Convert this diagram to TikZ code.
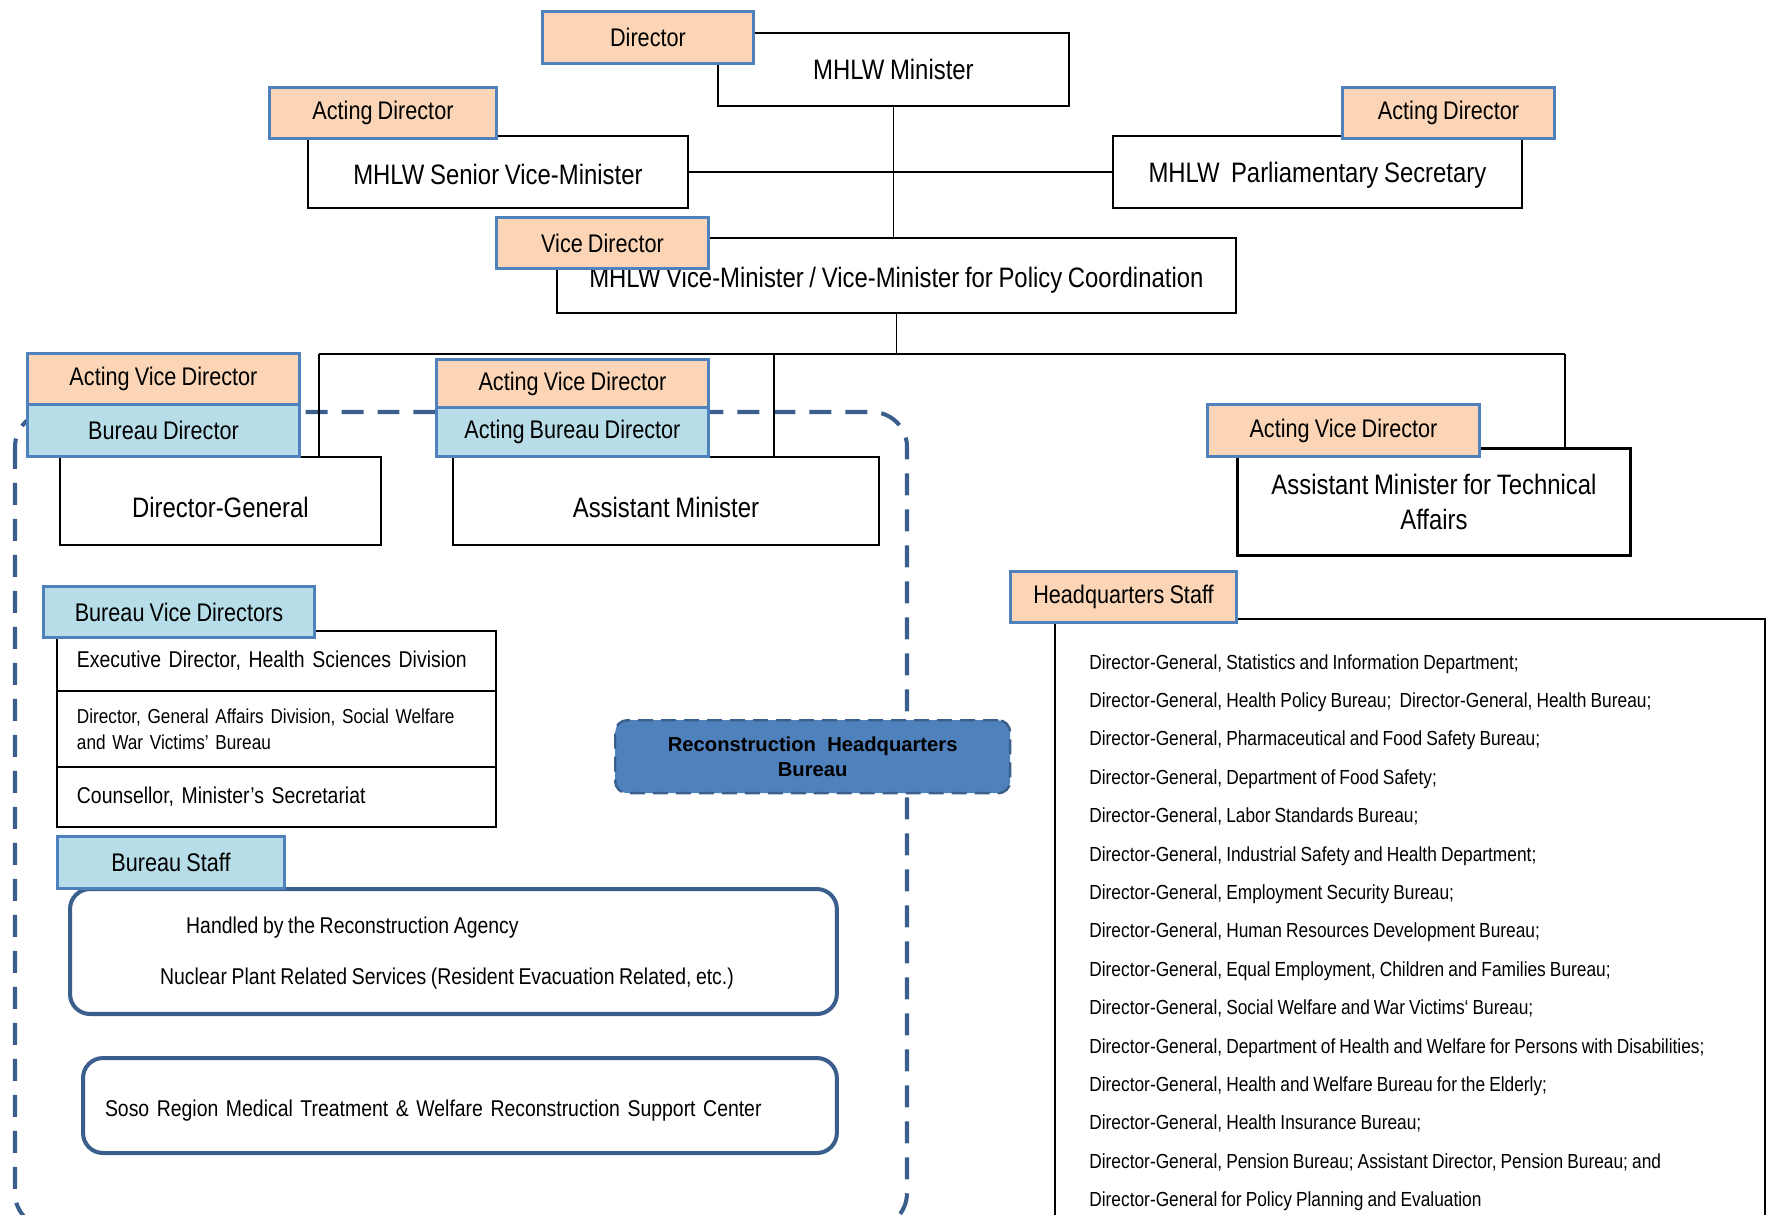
\documentclass[tikz,border=0pt]{standalone}
\usepackage{fontspec}
\setmainfont{Liberation Sans}[FakeStretch=0.85, WordSpace=0.85]
\newfontfamily\widefont{Liberation Sans}
\usetikzlibrary{positioning}
\newcommand{\sz}[2]{\fontsize{#1}{#2}\selectfont}
\definecolor{peach}{HTML}{FBD5B5}
\definecolor{sky}{HTML}{B7DEE8}
\definecolor{tagline}{HTML}{4F81BD}
\definecolor{navy}{HTML}{3B5F8D}
\definecolor{hqfill}{HTML}{4F81BD}
\tikzset{
    block/.style = {draw, rectangle, fill=white, line width=1.1pt,
        inner sep=0pt, anchor=north west, font=\sz{16}{20}, align=center},
    tag/.style = {draw=tagline, rectangle, fill=peach, line width=1.7pt,
        inner sep=0pt, anchor=north west, font=\sz{14.5}{17}},
    tagb/.style = {tag, fill=sky},
    row/.style = {block, font=\sz{13}{15}, text width=7.98cm,
        inner xsep=0.4cm, align=left},
    group/.style = {draw=navy, rectangle, rounded corners=0.4cm, fill=white,
        line width=2.3pt, inner sep=0pt, anchor=north west},
    region/.style = {draw=navy, line width=2.3pt, rounded corners=0.7cm,
        dash pattern=on 0.44cm off 0.28cm},
    hq/.style = {draw=navy, fill=hqfill, line width=1.4pt, rounded corners=0.24cm,
        dash pattern=on 0.3cm off 0.16cm, inner sep=0pt, anchor=north west,
        align=center, font=\widefont\bfseries\sz{11.5}{14}},
    line/.style = {draw, line width=0.85pt}
}

\begin{document}
\begin{tikzpicture}[x=0.02cm, y=-0.02cm]
    \useasboundingbox (0,0) rectangle (1767,1214);
    % bureau region
    \draw [region] (15,412) rectangle (907,1228);
    % bus lines
    \coordinate (tapdg) at (319,354);
    \coordinate (tapam) at (774,354);
    \coordinate (tapata) at (1565,354);
    \node [block, minimum width=7.02cm, minimum height=1.46cm] (minister) at (717,32) {MHLW Minister};
    \node [block, minimum width=7.6cm, minimum height=1.44cm, text height=0.5cm] (senior) at (307,135) {MHLW Senior Vice-Minister};
    \node [block, minimum width=8.18cm, minimum height=1.44cm, text height=0.55cm] (parl) at (1112,135) {MHLW\ \ Parliamentary Secretary};
    \node [block, minimum width=13.58cm, minimum height=1.5cm, text height=0.58cm] (vice) at (556,237) {MHLW Vice-Minister / Vice-Minister for Policy Coordination};
    \draw [line] (minister.south) -- (minister.south |- vice.north);
    \draw [line] (senior.east) -- (parl.west);
    \draw [line] (vice.south) -- (vice.south |- tapdg);
    \draw [line] (tapdg) -- (tapata);
    \node [block, minimum width=6.42cm, minimum height=1.76cm, text height=0.68cm, text depth=0pt] (dg) at (59,456) {Director-General};
    \node [block, minimum width=8.52cm, minimum height=1.76cm, text height=0.68cm, text depth=0pt] (am) at (452,456) {Assistant Minister};
    \node [block, line width=1.7pt, minimum width=7.86cm, minimum height=2.14cm] (ata) at (1236,447) {Assistant Minister for Technical\\Affairs};
    \draw [line] (tapdg) -- (tapdg |- dg.north);
    \draw [line] (tapam) -- (tapam |- am.north);
    \draw [line] (tapata) -- (tapata |- ata.north);
    % titles
    \node [tag, minimum width=4.22cm, minimum height=1.04cm] (lbdir) at (541,10) {Director};
    \node [tag, minimum width=4.54cm, minimum height=1.02cm] (lbsen) at (268,86) {Acting Director};
    \node [tag, minimum width=4.24cm, minimum height=1.02cm] (lbparl) at (1341,86) {Acting Director};
    \node [tag, minimum width=4.24cm, minimum height=1.02cm] (lbvice) at (495,216) {Vice Director};
    \node [tag, minimum width=5.44cm, minimum height=1.02cm] (lbdg) at (26,352) {Acting Vice Director};
    \node [tagb, minimum width=5.44cm, minimum height=1.04cm] (lbdgb) at (26,403) {Bureau Director};
    \node [tag, minimum width=5.44cm, minimum height=0.96cm] (lbam) at (435,358) {Acting Vice Director};
    \node [tagb, minimum width=5.44cm, minimum height=0.98cm] (lbamb) at (435,406) {Acting Bureau Director};
    \node [tag, minimum width=5.44cm, minimum height=1.04cm] (lbata) at (1206,403) {Acting Vice Director};
    % bureau vice directors
    \node [row, minimum height=1.2cm] (rowa) at (56,630) {Executive Director, Health Sciences Division};
    \node [row, minimum height=1.52cm, font=\sz{11.5}{15}] (rowb) at (56,690) {Director, General Affairs Division, Social Welfare\\and War Victims' Bureau};
    \node [row, minimum height=1.2cm] (rowc) at (56,766) {Counsellor, Minister's Secretariat};
    \node [tagb, minimum width=5.42cm, minimum height=1.02cm] (lbbvd) at (42,585) {Bureau Vice Directors};
    % bureau staff
    \node [group, minimum width=15.34cm, minimum height=2.5cm] (staff) at (68,887) {};
    \node [anchor=west, font=\sz{13}{15}] (handled) at (180,928) {Handled by the Reconstruction Agency};
    \node [font=\sz{13}{15}] (nuclear) at (447,979) {Nuclear Plant Related Services (Resident Evacuation Related, etc.)};
    \node [tagb, minimum width=4.54cm, minimum height=1.04cm] (lbstaff) at (56,835) {Bureau Staff};
    \node [group, minimum width=15.08cm, minimum height=1.9cm, text width=14.2cm,
        inner xsep=0.44cm, align=left, font=\sz{13}{15}, text height=0.55cm] (soso) at (81,1056) {Soso Region Medical Treatment \& Welfare Reconstruction Support Center};
    \node [hq, minimum width=7.9cm, minimum height=1.46cm] (rhq) at (614,719) {Reconstruction\ \ Headquarters\\Bureau};
    % headquarters staff
    \node [block, minimum width=14.2cm, minimum height=12.6cm] (hqbox) at (1054,618) {};
    \node [anchor=north west, inner sep=0pt, align=left, font=\sz{11.6}{21.85}] (hqlist) at (1089,654) {%
        Director-General, Statistics and Information Department;\\
        Director-General, Health Policy Bureau;\ \ Director-General, Health Bureau;\\
        Director-General, Pharmaceutical and Food Safety Bureau;\\
        Director-General, Department of Food Safety;\\
        Director-General, Labor Standards Bureau;\\
        Director-General, Industrial Safety and Health Department;\\
        Director-General, Employment Security Bureau;\\
        Director-General, Human Resources Development Bureau;\\
        Director-General, Equal Employment, Children and Families Bureau;\\
        Director-General, Social Welfare and War Victims` Bureau;\\
        Director-General, Department of Health and Welfare for Persons with Disabilities;\\
        Director-General, Health and Welfare Bureau for the Elderly;\\
        Director-General, Health Insurance Bureau;\\
        Director-General, Pension Bureau; Assistant Director, Pension Bureau; and\\
        Director-General for Policy Planning and Evaluation};
    \node [tag, minimum width=4.52cm, minimum height=1.02cm] (lbhq) at (1009,570) {Headquarters Staff};
\end{tikzpicture}
\end{document}
